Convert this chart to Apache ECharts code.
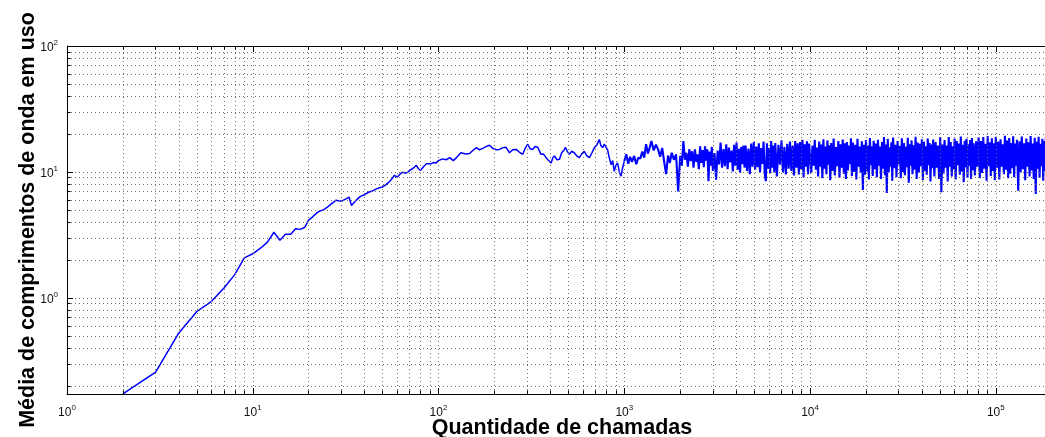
<!DOCTYPE html>
<html>
<head>
<meta charset="utf-8">
<script src="https://cdn.jsdelivr.net/npm/echarts@6/dist/echarts.min.js"></script>
<style>html,body{margin:0;padding:0;background:#fff}#c{width:1045px;height:437px}</style>
</head>
<body>
<div id="c"></div>
<script>
// ---- data ----
const xAxisTitle = 'Quantidade de chamadas';
const yAxisTitle = 'Média de comprimentos de onda em uso';

const callsEarly = [2,3,4,5,6,7,8,9,10,11,12,13,14,15,16,17,18,19,20,21,22,23,24,25,26,27,28,29,30,31,32,33,34,35,36,37,38,40,42,44,46,48,50,52,54,56,58,60,62,64,66,68,70,73,76,78,80,83,86,88,91,94,97,100,105,110,115,120,125,132,140,147,153,160,166,173,180,188,196,204,213,222,231,241,251,262,272,284,293,302,311,321,331,342,356,367,379,390,404,412,421,434,448,460,472,482,494,506,521,538,555,573,590,609,628,649,670,690,712,734,748,764,780,796,813,830,850,866,883,900,920,940,960,980,1000];
const meanEarly = [0.173,0.258,0.527,0.78,0.94,1.2,1.53,2.08,2.24,2.48,2.77,3.32,2.87,3.2,3.2,3.54,3.5,3.62,4.15,4.4,4.7,4.9,5.0,5.2,5.45,5.7,5.95,5.9,5.85,6.0,6.15,6.3,5.42,5.7,5.95,6.2,6.4,6.6,6.9,7.05,7.3,7.5,7.6,7.9,8.3,8.8,9.4,9.1,9.6,9.95,9.8,9.9,10.3,10.7,11.3,10.6,10.3,11.0,11.6,11.8,11.6,11.9,11.8,12.3,12.7,12.5,13.0,12.3,13.0,14.2,13.9,14.0,14.8,15.6,15.0,15.4,15.9,16.3,15.4,15.0,15.1,15.6,15.7,14.2,15.0,15.1,14.4,13.8,15.4,16.6,15.3,15.1,15.9,15.7,13.8,13.9,13.0,12.4,11.8,12.9,13.4,12.5,12.6,14.2,14.8,15.7,14.5,13.8,14.6,14.2,13.4,13.0,13.9,14.6,13.5,13.0,14.2,15.6,16.4,18.1,16.2,15.6,16.6,17.1,15.0,13.0,11.4,12.3,10.1,11.2,11.8,10.0,9.26,10.8,12.2];

const callsMid = [1025,1050,1075,1100,1130,1160,1190,1220,1250,1280,1310,1340,1370,1400,1440,1480,1520,1560,1600,1640,1680,1720,1760,1800,1850,1900,1950,
2000,2040,2080,2120,2160,2200,2240,2280,2320,2360,2400,2440,2480,2520,2560,2600,2640,2680,2720,2760,2800,2840,2880,2920,2960,
3000,3060,3120,3180,3240,3300,3360,3420,3480,3540,3600,3660,3720,3780,3840,3900,3960,4020,4080,4140,4200,4260,4320,4380,4440,
4500,4580,4660,4740,4820,4900,4980,5060,5140,5220,5300,5380,5460,5540,5620,5700,5780,5860,5940,6020,6100,6180,6260,6340,6420,
6500,6630,6760,6890,7020,7150,7280,7410,7540,7670,7800,7930,8060,8190,8320,8450,8580,8710,8840,8970,9100,9230,9360,9490,9620,9750,9880];
const meanMid = [13.8,11.6,13.2,12.0,13.4,11.5,13.0,12.8,14.5,13.0,16.6,14.0,15.6,17.6,14.8,16.5,15.1,13.2,15.5,12.0,9.6,13.5,11.8,14.2,12.5,13.8,7.0,
13.4,11.2,17.6,12.5,14.2,11.0,15.2,12.2,14.6,10.8,15.1,12.0,13.8,10.5,16.0,11.8,14.9,10.9,16.0,12.3,15.1,8.45,14.5,11.2,15.8,
10.2,14.1,8.7,14.8,11.5,17.1,10.8,15.2,11.1,16.6,10.5,15.6,11.9,14.8,10.1,16.4,11.2,17.1,10.4,15.3,9.8,15.8,11.5,16.2,10.8,
16.2,10.2,15.3,9.6,16.8,11.0,17.3,10.4,15.9,10.9,16.9,9.9,15.5,11.6,17.4,9.8,8.45,16.9,10.6,15.5,9.8,17.6,10.8,16.2,9.9,
17.0,9.2,16.4,11.4,17.8,9.9,15.8,9.55,16.7,10.6,17.4,10.2,16.1,9.4,17.6,10.8,16.9,9.55,17.3,10.5,18.0,9.1,16.6,11.0,17.5,9.6,16.8];

const callsLate = [10000,10150,10300,10450,10600,10750,10900,11050,11200,11350,11500,11650,11800,11950,12100,12250,12400,12550,12700,12850,
13000,13200,13400,13600,13800,14000,14200,14400,14600,14800,15000,15200,15400,15600,15800,16000,16200,16400,16600,16800,
17000,17250,17500,17750,18000,18250,18500,18750,19000,19250,19500,19750,20000,20250,20500,20750,21000,21250,21500,21750,
22000,22300,22600,22900,23200,23500,23800,24100,24400,24700,25000,25300,25600,25900,26200,26500,26800,27100,27400,27700,
28000,28400,28800,29200,29600,30000,30400,30800,31200,31600,32000,32400,32800,33200,33600,34000,34400,34800,35200,35600,
36000,36500,37000,37500,38000,38500,39000,39500,40000,40500,41000,41500,42000,42500,43000,43500,44000,44500,45000,45500,
46000,46700,47400,48100,48800,49500,50200,50900,51600,52300,53000,53700,54400,55100,55800,56500,57200,57900,58600,59300,
60000,60800,61600,62400,63200,64000,64800,65600,66400,67200,68000,68800,69600,70400,71200,72000,72800,73600,74400,75200,
76000,77200,78400,79600,80800,82000,83200,84400,85600,86800,88000,89200,90400,91600,92800,94000,95200,96400,97600,98800,
100000,101500,103000,104500,106000,107500,109000,110500,112000,113500,115000,116500,118000,119500,121000,122500,124000,125500,127000,128500,
130000,132000,134000,136000,138000,140000,142000,144000,146000,148000,150000,152000,154000,156000,158000,160000,162000,164000,166000,168000,170000,172000,174000,176000,178000,180000,182000,184000,186000];
const meanLate = [17.2,9.8,16.1,11.2,18.0,10.4,15.6,9.2,17.4,11.0,16.5,8.9,18.2,10.6,15.9,9.6,17.8,11.4,16.3,8.6,
17.0,10.2,18.4,9.4,15.8,11.1,17.6,9.0,16.6,10.8,18.1,9.7,16.9,8.8,17.3,10.3,16.2,11.5,18.5,9.3,
17.1,10.0,16.4,8.7,18.3,11.0,15.9,9.9,17.5,7.2,16.4,9.5,17.9,10.1,16.2,8.7,18.6,11.3,16.0,9.3,
17.7,10.5,16.8,9.1,18.0,11.2,15.9,8.8,17.3,10.6,18.9,9.4,16.5,6.8,18.3,9.9,15.7,11.0,17.2,8.5,
18.8,10.7,16.4,9.1,17.6,11.5,16.1,8.9,18.5,10.0,17.0,9.4,15.9,10.9,18.7,8.2,16.6,11.2,17.8,9.6,
16.3,10.4,19.0,8.8,17.1,9.9,16.7,11.1,18.2,8.6,17.4,10.2,16.0,9.5,18.4,11.3,17.0,8.4,16.5,10.7,
18.1,9.2,17.3,10.8,16.2,8.8,18.9,6.9,16.5,9.7,17.9,10.8,16.2,8.4,18.9,11.0,17.3,9.2,16.0,10.5,
18.4,8.7,17.6,11.3,16.8,9.5,19.1,10.1,16.4,8.3,17.7,10.9,18.3,9.0,16.6,11.2,17.9,8.8,18.6,10.3,
16.9,9.4,17.5,11.0,18.8,8.9,17.6,9.8,18.9,10.6,16.7,8.5,19.3,11.1,17.2,9.3,18.5,10.2,16.9,8.6,
19.0,10.8,17.4,8.7,18.2,11.0,16.6,9.6,19.4,10.4,17.8,8.9,18.6,9.7,17.0,10.7,19.2,9.1,16.8,11.2,
18.0,7.1,17.5,9.9,19.1,10.5,16.9,8.6,18.4,11.0,17.2,9.2,19.3,10.3,16.8,8.8,18.7,6.7,17.4,10.6,19.0,9.0,16.7,11.1,18.3,8.5,17.6,10.2,18.9];

const xRange = [1, 184000];
const yRange = [0.1726, 100];
const gridMantissas = [1,2,3,4,5,6,7,8,9];

// ---- build ----
const FONT = 'Liberation Sans, Arial, sans-serif';
const pairs = (xs, ys) => {
  const out = [];
  for (let i = 0; i < Math.min(xs.length, ys.length); i++) out.push([xs[i], ys[i]]);
  return out;
};
const earlyData = pairs(callsEarly, meanEarly);
const denseData = pairs([callsEarly[callsEarly.length - 1]].concat(callsMid, callsLate),
                        [meanEarly[meanEarly.length - 1]].concat(meanMid, meanLate));

const G = {left: 67, top: 46, right: 0, bottom: 43};
const W = 1045, H = 437;
const pxPerDecX = (W - G.left - G.right) / Math.log10(xRange[1] / xRange[0]);
const pxPerDecY = (H - G.top - G.bottom) / Math.log10(yRange[1] / yRange[0]);
const fX = px => Math.pow(10, px / pxPerDecX);
const fY = px => Math.pow(10, px / pxPerDecY);

const gridStyle = {type: [1, 3], color: '#6a6a6a', width: 1};
const tickStyle = {type: 'solid', color: '#000', width: 1};
const marks = [];
for (let k = 0; k <= 5; k++) {
  gridMantissas.forEach(m => {
    const v = m * Math.pow(10, k);
    if (v <= xRange[0] || v >= xRange[1]) return;
    marks.push({xAxis: v, lineStyle: gridStyle});
    const len = m === 1 ? 6 : 3.5;
    marks.push([{coord: [v, yRange[0]], lineStyle: tickStyle}, {coord: [v, yRange[0] * fY(len)]}]);
    marks.push([{coord: [v, yRange[1]], lineStyle: tickStyle}, {coord: [v, yRange[1] / fY(len)]}]);
  });
}
for (let k = -1; k <= 1; k++) {
  gridMantissas.forEach(m => {
    const v = +(m * Math.pow(10, k)).toFixed(6);
    if (v <= yRange[0] || v >= yRange[1]) return;
    marks.push({yAxis: v, lineStyle: gridStyle});
    const len = m === 1 ? 6 : 3.5;
    marks.push([{coord: [xRange[0], v], lineStyle: tickStyle}, {coord: [xRange[0] * fX(len), v]}]);
  });
}
marks.push({yAxis: yRange[1], lineStyle: {type: 'solid', color: '#000', width: 1}});

const labelFmt = v => '{b|10}{s|' + Math.round(Math.log10(v)) + '}';
const rich = {
  b: {fontSize: 12, fontFamily: FONT, color: '#111', verticalAlign: 'bottom'},
  s: {fontSize: 8, fontFamily: FONT, color: '#111', verticalAlign: 'bottom', padding: [0, 0, 7, 0]}
};

const chart = echarts.init(document.getElementById('c'), null, {renderer: 'canvas'});
chart.setOption({
  animation: false,
  backgroundColor: '#fff',
  grid: Object.assign({containLabel: false, outerBoundsMode: 'none'}, G),
  xAxis: {
    type: 'log', logBase: 10, min: xRange[0], max: xRange[1],
    name: xAxisTitle, nameLocation: 'middle', nameGap: 23, nameMoveOverlap: false,
    nameTextStyle: {fontFamily: FONT, fontWeight: 'bold', fontSize: 21.5, color: '#000', padding: [0, 0, 0, 12]},
    axisLine: {show: true, lineStyle: {color: '#000', width: 1}},
    axisTick: {show: false}, splitLine: {show: false}, minorTick: {show: false},
    axisLabel: {formatter: labelFmt, rich: rich, margin: 10, showMaxLabel: false, showMinLabel: true}
  },
  yAxis: {
    type: 'log', logBase: 10, min: yRange[0], max: yRange[1],
    name: yAxisTitle, nameLocation: 'middle', nameGap: 28, nameRotate: 90, nameMoveOverlap: false,
    nameTextStyle: {fontFamily: FONT, fontWeight: 'bold', fontSize: 21.5, color: '#000'},
    axisLine: {show: true, lineStyle: {color: '#000', width: 1}},
    axisTick: {show: false}, splitLine: {show: false}, minorTick: {show: false},
    axisLabel: {formatter: labelFmt, rich: rich, margin: 9, showMinLabel: false, showMaxLabel: true}
  },
  series: [
    {
      type: 'line', data: [], z: 1, silent: true,
      markLine: {silent: true, symbol: ['none', 'none'], label: {show: false}, animation: false, data: marks}
    },
    {
      type: 'line', data: earlyData, z: 3, showSymbol: false, symbol: 'none', sampling: null,
      lineStyle: {color: '#0000ff', width: 1.5}, clip: true, silent: true
    },
    {
      type: 'line', data: denseData, z: 3, showSymbol: false, symbol: 'none', sampling: null,
      lineStyle: {color: '#0000ff', width: 2.1}, clip: true, silent: true
    }
  ]
});
</script>
</body>
</html>
